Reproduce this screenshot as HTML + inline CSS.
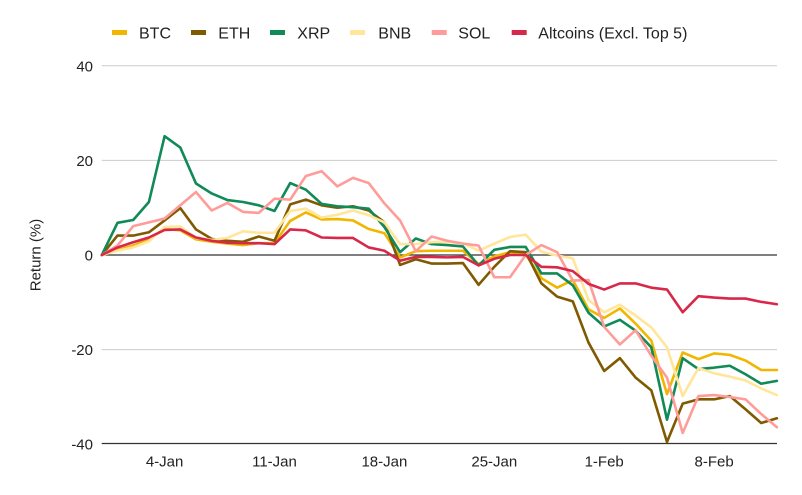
<!DOCTYPE html>
<html>
<head>
<meta charset="utf-8">
<style>
  html, body { margin:0; padding:0; background:#ffffff; }
  svg { display:block; }
  text { font-family: "Liberation Sans", Arial, sans-serif; fill:#222222; }
</style>
</head>
<body>
<svg width="802" height="495" viewBox="0 0 802 495" xmlns="http://www.w3.org/2000/svg">
  <rect x="0" y="0" width="802" height="495" fill="#ffffff"/>

  <!-- Legend -->
  <rect x="112" y="30" width="15" height="5" fill="#f1b600"/>
  <text x="139" y="38.5" font-size="16">BTC</text>
  <rect x="191" y="30" width="15" height="5" fill="#7f5a00"/>
  <text x="218.3" y="38.5" font-size="16">ETH</text>
  <rect x="270" y="30" width="15" height="5" fill="#108a57"/>
  <text x="297.3" y="38.5" font-size="16">XRP</text>
  <rect x="350" y="30" width="15" height="5" fill="#ffe69a"/>
  <text x="378.3" y="38.5" font-size="16">BNB</text>
  <rect x="431.7" y="30" width="15" height="5" fill="#ff9c99"/>
  <text x="458.3" y="38.5" font-size="16">SOL</text>
  <rect x="511.7" y="30" width="15" height="5" fill="#d8284a"/>
  <text x="538.3" y="38.5" font-size="16">Altcoins (Excl. Top 5)</text>

  <!-- Gridlines -->
  <line x1="101.7" y1="65.7" x2="777" y2="65.7" stroke="#cccccc" stroke-width="1"/>
  <line x1="101.7" y1="160.4" x2="777" y2="160.4" stroke="#cccccc" stroke-width="1"/>
  <line x1="101.7" y1="349.6" x2="777" y2="349.6" stroke="#cccccc" stroke-width="1"/>
  <line x1="101.7" y1="255" x2="777" y2="255" stroke="#333333" stroke-width="1.3"/>
  <line x1="101.7" y1="443.5" x2="777" y2="443.5" stroke="#333333" stroke-width="1.3"/>

  <!-- Y tick labels -->
  <text x="93" y="71.3" font-size="15" text-anchor="end">40</text>
  <text x="93" y="166" font-size="15" text-anchor="end">20</text>
  <text x="93" y="260.4" font-size="15" text-anchor="end">0</text>
  <text x="93" y="354.8" font-size="15" text-anchor="end">-20</text>
  <text x="93" y="449.6" font-size="15" text-anchor="end">-40</text>

  <!-- Y axis title -->
  <text transform="translate(40.5,255) rotate(-90)" font-size="15" text-anchor="middle">Return (%)</text>

  <!-- X tick labels -->
  <text x="164.6" y="466.7" font-size="15" text-anchor="middle">4-Jan</text>
  <text x="274.5" y="466.7" font-size="15" text-anchor="middle">11-Jan</text>
  <text x="384.4" y="466.7" font-size="15" text-anchor="middle">18-Jan</text>
  <text x="494.3" y="466.7" font-size="15" text-anchor="middle">25-Jan</text>
  <text x="604.2" y="466.7" font-size="15" text-anchor="middle">1-Feb</text>
  <text x="714.1" y="466.7" font-size="15" text-anchor="middle">8-Feb</text>

  <!-- Series -->
  <g transform="translate(101.8,255) scale(15.7,-4.733)" fill="none" stroke-linejoin="round" stroke-linecap="round">
    <polyline vector-effect="non-scaling-stroke" stroke="#f1b600" stroke-width="2.6"
      points="0,0 1,1.1 2,2.0 3,3.3 4,5.5 5,5.2 6,3.3 7,2.8 8,2.4 9,2.1 10,2.5 11,2.5 12,7.2 13,9.0 14,7.5 15,7.6 16,7.3 17,5.5 18,4.6 19,-0.5 20,0.8 21,0.9 22,0.9 23,0.9 24,-1.9 25,-0.3 26,0.6 27,0.1 28,-4.9 29,-6.9 30,-5.3 31,-11.5 32,-13.3 33,-11.3 34,-14.5 35,-18.1 36,-29.4 37,-20.6 38,-22.0 39,-20.8 40,-21.1 41,-22.3 42,-24.3 43,-24.3"/>
    <polyline vector-effect="non-scaling-stroke" stroke="#7f5a00" stroke-width="2.6"
      points="0,0 1,4.1 2,4.1 3,4.8 4,7.3 5,9.9 6,5.4 7,3.4 8,3.0 9,2.8 10,3.9 11,3.0 12,10.7 13,11.7 14,10.5 15,10.0 16,10.3 17,9.4 18,6.9 19,-2.1 20,-0.9 21,-1.8 22,-1.8 23,-1.7 24,-6.3 25,-2.5 26,0.8 27,0.6 28,-6.0 29,-8.8 30,-9.8 31,-18.5 32,-24.5 33,-21.8 34,-25.9 35,-28.6 36,-39.5 37,-31.4 38,-30.5 39,-30.5 40,-29.8 41,-32.6 42,-35.5 43,-34.5"/>
    <polyline vector-effect="non-scaling-stroke" stroke="#108a57" stroke-width="2.6"
      points="0,0 1,6.8 2,7.4 3,11.2 4,25.1 5,22.7 6,15.1 7,13.0 8,11.6 9,11.2 10,10.5 11,9.3 12,15.2 13,13.8 14,10.8 15,10.3 16,10.1 17,9.8 18,5.9 19,0.6 20,3.5 21,2.3 22,2.1 23,1.8 24,-2.2 25,1.1 26,1.7 27,1.7 28,-3.9 29,-3.9 30,-6.4 31,-12.2 32,-15.1 33,-13.7 34,-16.0 35,-19.5 36,-34.8 37,-21.8 38,-24.1 39,-23.8 40,-23.4 41,-25.2 42,-27.2 43,-26.6"/>
    <polyline vector-effect="non-scaling-stroke" stroke="#ffe69a" stroke-width="2.6"
      points="0,0 1,0.9 2,1.6 3,2.9 4,5.9 5,6.0 6,3.6 7,3.2 8,3.6 9,5.0 10,4.7 11,4.7 12,9.3 13,9.8 14,7.9 15,8.5 16,9.4 17,8.4 18,6.9 19,2.3 20,2.3 21,2.7 22,2.8 23,2.5 24,0.9 25,2.4 26,3.8 27,4.3 28,0.7 29,-0.1 30,-0.7 31,-9.5 32,-12.1 33,-10.5 34,-12.8 35,-15.3 36,-19.5 37,-29.8 38,-23.9 39,-25.0 40,-25.7 41,-26.5 42,-28.2 43,-29.6"/>
    <polyline vector-effect="non-scaling-stroke" stroke="#ff9c99" stroke-width="2.6"
      points="0,0 1,2.0 2,6.1 3,6.9 4,7.7 5,10.5 6,13.3 7,9.4 8,11.0 9,9.1 10,8.9 11,11.9 12,11.7 13,16.7 14,17.7 15,14.5 16,16.3 17,15.2 18,10.9 19,7.3 20,0.8 21,3.9 22,3.0 23,2.4 24,2.0 25,-4.7 26,-4.7 27,0.0 28,2.1 29,0.6 30,-5.4 31,-5.3 32,-15.2 33,-18.9 34,-15.9 35,-21.3 36,-25.9 37,-37.6 38,-29.8 39,-29.6 40,-30.0 41,-30.5 42,-33.6 43,-36.4"/>
    <polyline vector-effect="non-scaling-stroke" stroke="#d8284a" stroke-width="2.6"
      points="0,0 1,1.6 2,2.7 3,3.7 4,5.3 5,5.4 6,3.7 7,3.0 8,2.6 9,2.5 10,2.5 11,2.3 12,5.4 13,5.2 14,3.7 15,3.6 16,3.6 17,1.6 18,0.9 19,-1.2 20,-0.4 21,-0.4 22,-0.5 23,-0.4 24,-2.2 25,-0.8 26,0.0 27,0.0 28,-2.5 29,-2.6 30,-3.4 31,-6.1 32,-7.3 33,-6.0 34,-6.0 35,-6.9 36,-7.3 37,-12.1 38,-8.7 39,-9.0 40,-9.2 41,-9.2 42,-9.9 43,-10.4"/>
  </g>
</svg>
</body>
</html>
